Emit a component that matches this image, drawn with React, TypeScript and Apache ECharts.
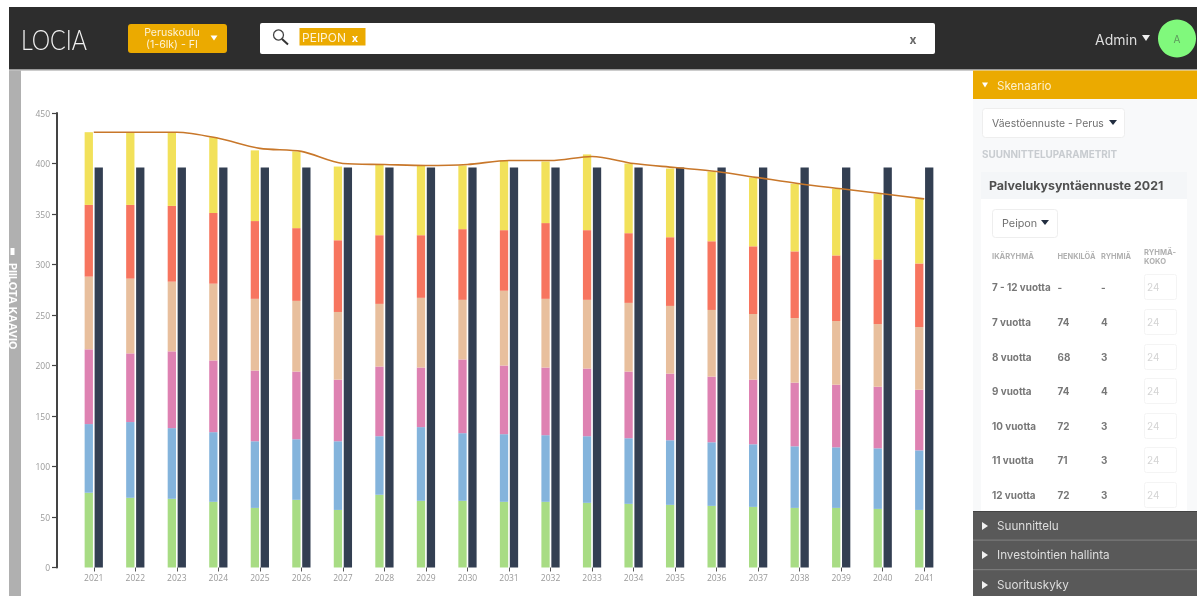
import React, { useEffect, useRef } from "react";
import * as echarts from "echarts";

const years = ["2021","2022","2023","2024","2025","2026","2027","2028","2029","2030","2031","2032","2033","2034","2035","2036","2037","2038","2039","2040","2041"];
const age7 = [74,69,68,65,59,67,57,72,66,66,65,65,64,63,62,61,60,59,59,58,57];
const age8 = [68,75,70,69,66,60,68,58,73,67,67,66,66,65,64,63,62,61,60,60,59];
const age9 = [74,68,76,71,70,67,61,69,59,73,68,67,67,66,66,65,64,63,62,61,60];
const age10 = [72,74,69,76,71,70,67,62,69,59,74,68,68,68,67,66,65,64,63,62,62];
const age11 = [71,73,75,70,77,72,71,68,62,70,60,75,69,69,68,68,67,66,65,64,63];
const age12 = [72,72,73,75,70,76,73,70,69,63,69,61,75,69,68,69,68,67,66,65,64];
const capacity = [396,396,396,396,396,396,396,396,396,396,396,396,396,396,396,396,396,396,396,396,396];
const demand = [431,431,431,425,415,412,400,399,398,399,403,403,407,400,396,392,386,380,375,370,365];
const yTicks = [0,50,100,150,200,250,300,350,400,450];

const tableRows = [
  ["7 - 12 vuotta", "-", "-"],
  ["7 vuotta", "74", "4"],
  ["8 vuotta", "68", "3"],
  ["9 vuotta", "74", "4"],
  ["10 vuotta", "72", "3"],
  ["11 vuotta", "71", "3"],
  ["12 vuotta", "72", "3"],
];
const rowY = [287, 322, 357, 391, 426, 460, 495];
const accordion = ["Suunnittelu", "Investointien hallinta", "Suorituskyky"];
const accordionY = [526, 555, 585];

const UI = "Inter, 'Noto Sans', sans-serif";
const ORANGE = "#ebaa00";

const rect = (x: number, y: number, width: number, height: number, fill: string, r = 0, stroke?: string): any => ({
  type: "rect",
  shape: { x, y, width, height, r },
  style: { fill, stroke: stroke ?? undefined, lineWidth: stroke ? 1 : 0 },
  silent: true,
});
const text = (t: string, x: number, y: number, size: number, fill: string, weight: number | string = 400, align = "left", family = UI): any => ({
  type: "text",
  x,
  y,
  silent: true,
  style: { text: t, fill, font: `${weight} ${size}px ${family}`, textAlign: align, textVerticalAlign: "middle" },
});
const tri = (pts: number[][], fill: string): any => ({ type: "polygon", shape: { points: pts }, style: { fill }, silent: true });
const down = (cx: number, cy: number, w: number, h: number, fill: string) => tri([[cx - w / 2, cy - h / 2], [cx + w / 2, cy - h / 2], [cx, cy + h / 2]], fill);
const right = (cx: number, cy: number, fill: string) => tri([[cx - 3, cy - 4], [cx + 3, cy], [cx - 3, cy + 4]], fill);

function chrome(): any[] {
  const g: any[] = [];
  // header
  g.push(rect(9, 7, 1188, 62, "#2d2d2d"));
  g.push(rect(9, 69, 1188, 1.5, "#9a9a9a"));
  g.push({ ...text("LOCIA", 18, 39, 27, "#f2f2f2", 300, "left", "Lato, sans-serif"), scaleX: 0.86, originX: 21, originY: 39 });
  g.push(rect(128, 24, 99, 29, ORANGE, 3));
  g.push(text("Peruskoulu", 172, 32.5, 10.6, "#fdf3d8", 400, "center"));
  g.push(text("(1-6lk) - FI", 172, 44.5, 10.6, "#fdf3d8", 400, "center"));
  g.push(down(214, 38, 7, 5, "#fff"));
  g.push(rect(260, 23, 675, 31, "#ffffff", 2));
  g.push({ type: "circle", shape: { cx: 278.5, cy: 35, r: 5 }, style: { fill: "none", stroke: "#444", lineWidth: 1.3 }, silent: true });
  g.push({ type: "line", shape: { x1: 282, y1: 39, x2: 288, y2: 44.5 }, style: { stroke: "#333", lineWidth: 2 }, silent: true });
  g.push(rect(299.5, 28, 66, 17.5, ORANGE));
  g.push(text("PEIPON", 302, 37.5, 12, "#fdf3d8"));
  g.push(text("x", 355, 37.5, 11, "#ffffff", 700, "center"));
  g.push(text("x", 913, 39, 12, "#666", 700, "center"));
  g.push(text("Admin", 1095, 39, 14, "#dddddd"));
  g.push(down(1146, 38, 8, 6, "#eee"));
  g.push({ type: "circle", shape: { cx: 1177, cy: 38.5, r: 19 }, style: { fill: "#80f97c" }, silent: true });
  g.push(text("A", 1177, 39, 10, "#5c9a5c", 400, "center"));
  // hide-chart strip
  g.push(rect(9, 70.5, 12, 525.5, "#b0b0b0"));
  g.push(rect(10.5, 248, 4, 7, "#ffffff"));
  g.push({ ...text("PIILOTA KAAVIO", 12, 263, 10.8, "#ffffff", 700), rotation: -Math.PI / 2 });
  // sidebar
  g.push(rect(973, 70.5, 224, 441, "#f8f9fa"));
  g.push(rect(973, 70.5, 224, 28.5, ORANGE));
  g.push(down(985, 85, 6, 5, "#fff"));
  g.push(text("Skenaario", 997, 85.5, 11.6, "#fdf0cc"));
  g.push(rect(982.5, 108.5, 142, 29, "#ffffff", 3, "#eeeeee"));
  g.push(text("Väestöennuste - Perus", 992, 123, 10.4, "#707070"));
  g.push(down(1113, 122.5, 8, 5, "#222d40"));
  g.push(text("SUUNNITTELUPARAMETRIT", 982, 153.5, 9.9, "#c8ccd0", 700));
  g.push(rect(981, 172, 206, 340, "#ffffff"));
  g.push(rect(981, 172, 206, 27, "#f4f6f8"));
  g.push(text("Palvelukysyntäennuste 2021", 989, 185.5, 12.4, "#505050", 700));
  g.push(rect(992.5, 209.5, 65, 28, "#ffffff", 3, "#eeeeee"));
  g.push(text("Peipon", 1002, 223.5, 10.8, "#707070"));
  g.push(down(1045, 222.5, 8, 5, "#222d40"));
  g.push(text("IKÄRYHMÄ", 992, 256.5, 7.6, "#b0b0b0", 700));
  g.push(text("HENKILÖÄ", 1057.5, 256.5, 7.4, "#b0b0b0", 700));
  g.push(text("RYHMIÄ", 1101, 256.5, 7.4, "#b0b0b0", 700));
  g.push(text("RYHMÄ-", 1144, 252, 7.6, "#b0b0b0", 700));
  g.push(text("KOKO", 1144, 261, 7.6, "#b0b0b0", 700));
  tableRows.forEach((row, i) => {
    const y = rowY[i];
    g.push(text(row[0], 992, y, 9.9, "#777777", 700));
    g.push(text(row[1], 1057.5, y, 9.9, "#777777", 700));
    g.push(text(row[2], 1101, y, 9.9, "#777777", 700));
    g.push(rect(1144.5, y - 12.5, 32, 25, "#ffffff", 2, "#f4f4f4"));
    g.push(text("24", 1147, y, 10, "#d4d4d4"));
  });
  // accordion
  g.push(rect(973, 511, 224, 85, "#595959"));
  g.push(rect(973, 511, 224, 1, "#444444"));
  g.push(rect(973, 539.5, 224, 1.2, "#7a7a7a"));
  g.push(rect(973, 569, 224, 1.2, "#7a7a7a"));
  accordion.forEach((label, i) => {
    g.push(right(985, accordionY[i], "#f2f2f2"));
    g.push(text(label, 997, accordionY[i], 11.7, "#dddddd"));
  });
  return g;
}

export default function App() {
  const ref = useRef<HTMLDivElement>(null);
  useEffect(() => {
    document.body.style.margin = "0";
    document.body.style.background = "#ffffff";
    document.body.style.overflow = "hidden";
    const chart = echarts.init(ref.current!, undefined, { renderer: "svg" });
    const stacked = [
      { name: "7 vuotta", data: age7, color: "#a8dc84" },
      { name: "8 vuotta", data: age8, color: "#84b4dc" },
      { name: "9 vuotta", data: age9, color: "#de82b2" },
      { name: "10 vuotta", data: age10, color: "#e8bf9d" },
      { name: "11 vuotta", data: age11, color: "#f7755f" },
      { name: "12 vuotta", data: age12, color: "#f2e15a" },
    ];
    chart.setOption({
      animation: false,
      backgroundColor: "#ffffff",
      grid: { left: 73, right: 252, top: 113, bottom: 28.5 },
      xAxis: {
        type: "category",
        data: years,
        axisLine: { show: false },
        axisTick: { show: true, alignWithLabel: true, length: 4, lineStyle: { color: "#555", width: 1 } },
        axisLabel: { color: "#999999", fontSize: 8.5, margin: 5, fontFamily: "'Open Sans', sans-serif", interval: 0 },
      },
      yAxis: {
        type: "value",
        min: 0,
        max: yTicks[yTicks.length - 1],
        interval: 50,
        offset: 16,
        splitLine: { show: false },
        axisLine: { show: true, lineStyle: { color: "#444444", width: 2 } },
        axisTick: { show: true, length: 5, lineStyle: { color: "#444444", width: 1.2 } },
        axisLabel: { color: "#999999", fontSize: 8.5, margin: 7, fontFamily: "'Open Sans', sans-serif" },
      },
      series: [
        ...stacked.map((s) => ({
          name: s.name,
          type: "bar",
          stack: "demand",
          data: s.data,
          barWidth: 8.3,
          barGap: "20%",
          itemStyle: { color: s.color },
        })),
        {
          name: "Kapasiteetti",
          type: "bar",
          data: capacity,
          barWidth: 8.3,
          barGap: "20%",
          itemStyle: { color: "#333f52" },
        },
        {
          name: "Palvelukysyntä",
          type: "line",
          data: demand,
          smooth: 0.3,
          showSymbol: false,
          symbol: "none",
          z: 5,
          lineStyle: { color: "#c8772a", width: 1.6 },
        },
      ],
      graphic: { elements: chrome() },
    });
    return () => chart.dispose();
  }, []);
  return <div ref={ref} style={{ width: 1197, height: 596, filter: "blur(0.5px)" }} />;
}
